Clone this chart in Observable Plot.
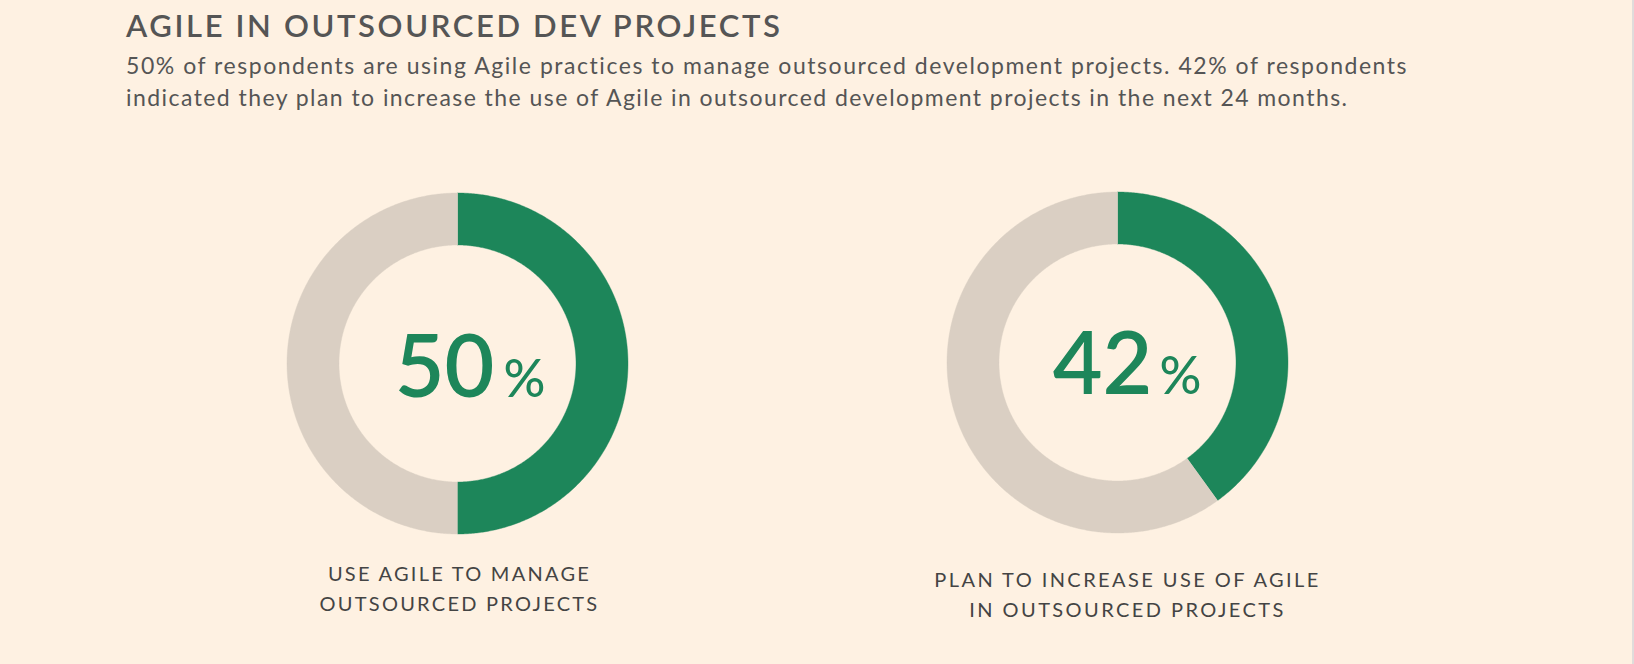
<!DOCTYPE html>
<html><head><meta charset="utf-8">
<script src="https://cdn.jsdelivr.net/npm/d3@7"></script>
<script src="https://cdn.jsdelivr.net/npm/@observablehq/plot@0.6"></script>
<style>
html,body{margin:0;padding:0;background:#fef1e2;}
#wrap{position:relative;width:1634px;height:664px;overflow:hidden;background:#fef1e2;font-family:Lato,sans-serif;}
#edge{position:absolute;right:0;top:0;width:2px;height:664px;background:#e0dcdb;}
.t{position:absolute;left:126px;white-space:nowrap;color:#555;}
#title{top:7px;font-size:31px;line-height:36px;font-weight:600;}
.sub{font-size:23px;line-height:32px;font-weight:400;}
#sub1{top:49px}
#sub2{top:81px}
.donut{position:absolute;}
</style></head><body>
<div id="wrap">
  <div id="title" class="t"></div>
  <div id="sub1" class="t sub"></div>
  <div id="sub2" class="t sub"></div>
  <div id="edge"></div>
</div>
<script>
// ---- data ----
const title = "AGILE IN OUTSOURCED DEV PROJECTS";
const subtitleLines = [
  "50% of respondents are using Agile practices to manage outsourced development projects. 42% of respondents",
  "indicated they plan to increase the use of Agile in outsourced development projects in the next 24 months."
];
const questions = [
  "USE AGILE TO MANAGE\nOUTSOURCED PROJECTS",
  "PLAN TO INCREASE USE OF AGILE\nIN OUTSOURCED PROJECTS"
];
const labelPercent = [50, 42];   // printed in the centre
const ringPercent = [50, 40];    // share of the ring drawn green (as measured)
const parts = ["yes", "no"];

// ---- style / layout ----
const GREEN = "#1d865a", GRAY = "#dacfc3";
const R_OUT = 170.5, R_IN = 118.5;
const W = 600, H = 520, TOPSPAN = 220;
const layout = [
  {cx: 457,  cy: 363, numRight: 37, pctLeft: 46, base: 33.5, capDx: 2,  capBase: 247.7, capW: 261},
  {cx: 1117, cy: 362, numRight: 35, pctLeft: 42, base: 31.5, capDx: 10, capBase: 254.5, capW: 384}
];

document.getElementById("title").textContent = title;
document.getElementById("sub1").textContent = subtitleLines[0];
document.getElementById("sub2").textContent = subtitleLines[1];

function fitHTML(el, target) {
  el.style.letterSpacing = "0px";
  const w = el.getBoundingClientRect().width;
  const n = el.textContent.length;
  el.style.letterSpacing = ((target - w) / (n - 1)) + "px";
}
fitHTML(document.getElementById("title"), 654);
fitHTML(document.getElementById("sub1"), 1281);
fitHTML(document.getElementById("sub2"), 1221);

function ringPoints(share) {
  const segs = [{part: "yes", from: 0, to: share}, {part: "no", from: share, to: 100}];
  const pts = [];
  for (const s of segs) {
    const a0 = s.from / 100 * 2 * Math.PI, a1 = s.to / 100 * 2 * Math.PI;
    const n = Math.max(2, Math.ceil((a1 - a0) / (Math.PI / 360)));
    const angles = d3.range(n + 1).map(k => a0 + (a1 - a0) * k / n);
    for (const a of angles) pts.push({part: s.part, x: R_OUT * Math.sin(a), y: -R_OUT * Math.cos(a)});
    for (const a of angles.slice().reverse()) pts.push({part: s.part, x: R_IN * Math.sin(a), y: -R_IN * Math.cos(a)});
  }
  return pts;
}

const wrap = document.getElementById("wrap");
labelPercent.forEach((lab, i) => {
  const L = layout[i];
  const svg = Plot.plot({
    width: W, height: H, margin: 0,
    style: {background: "transparent", fontFamily: "Lato, sans-serif", overflow: "visible"},
    x: {domain: [-W / 2, W / 2], range: [0, W], axis: null},
    y: {domain: [-TOPSPAN, H - TOPSPAN], range: [0, H], axis: null},
    color: {domain: parts, range: [GREEN, GRAY]},
    marks: [
      Plot.line(ringPoints(ringPercent[i]), {x: "x", y: "y", z: "part", fill: "part", stroke: "part", strokeWidth: 0.4, curve: "linear"}),
      Plot.text([lab], {x: L.numRight, y: L.base, text: d => String(d), textAnchor: "end", lineAnchor: "bottom",
        fontSize: 86, fontWeight: 600, fill: GREEN}),
      Plot.text(["%"], {x: L.pctLeft, y: L.base, text: d => d, textAnchor: "start", lineAnchor: "bottom",
        fontSize: 52, fontWeight: 500, fill: GREEN}),
      Plot.text([questions[i]], {x: L.capDx, y: L.capBase, text: d => d, textAnchor: "middle", lineAnchor: "bottom",
        lineHeight: 1.5, fontSize: 20, fontWeight: 400, fill: "#444"})
    ]
  });
  const div = document.createElement("div");
  div.className = "donut";
  div.style.left = (L.cx - W / 2) + "px";
  div.style.top = (L.cy - TOPSPAN) + "px";
  div.appendChild(svg);
  wrap.appendChild(div);
  // fit caption tracking to the reference width
  const cap = Array.from(svg.querySelectorAll("text")).find(t => t.querySelector("tspan"));
  if (cap) {
    const first = cap.querySelector("tspan");
    const w = first.getComputedTextLength();
    const n = first.textContent.length;
    cap.style.letterSpacing = ((L.capW - w) / (n - 1)) + "px";
  }
});
</script>
</body></html>
